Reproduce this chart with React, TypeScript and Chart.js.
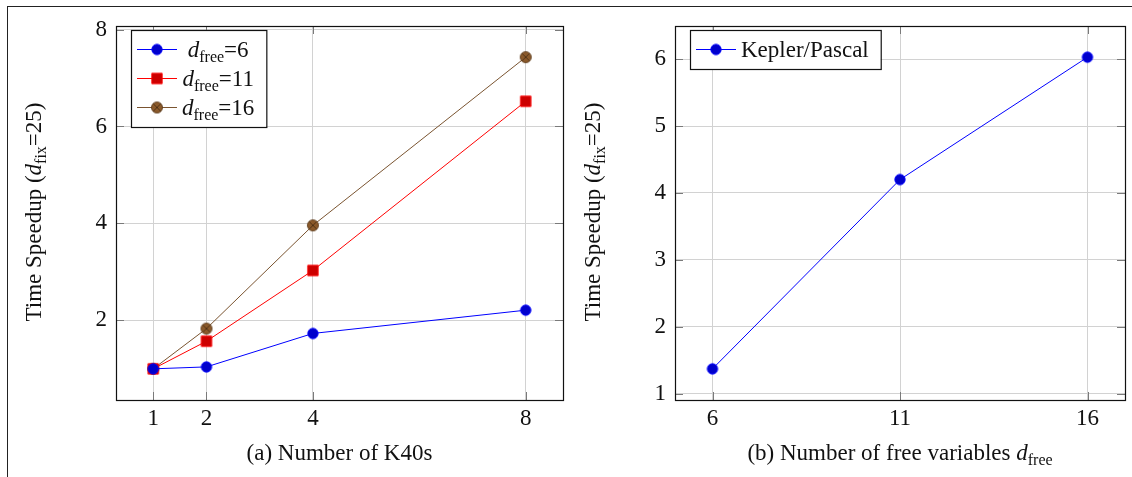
import React, { useEffect, useRef } from 'react';
import { Chart, registerables } from 'chart.js';

Chart.register(...registerables);

// ---- data ----
const gpuCounts = [1, 2, 4, 8];
const speedupFree6 = [1.0, 1.04, 1.73, 2.21];
const speedupFree11 = [1.0, 1.57, 3.03, 6.52];
const speedupFree16 = [1.0, 1.83, 3.96, 7.43];

const freeVariables = [6, 11, 16];
const speedupKeplerPascal = [1.37, 4.2, 6.03];

const leftXTicks = [1, 2, 4, 8];
const leftYTicks = [2, 4, 6, 8];
const rightXTicks = [6, 11, 16];
const rightYTicks = [1, 2, 3, 4, 5, 6];

// ---- styling ----
const FAMILY = "'Liberation Serif', 'DejaVu Serif', serif";
const MAIN = 23;
const SUB = 16;
const TEXT = '#111';
const GRID = '#d2d2d2';
const TICK = '#7a7a7a';

type Seg = { t: string; it?: boolean; sub?: boolean };

const fontOf = (s: Seg) => `${s.it ? 'italic ' : ''}${s.sub ? SUB : MAIN}px ${FAMILY}`;

function richWidth(ctx: CanvasRenderingContext2D, segs: Seg[]) {
  let w = 0;
  for (const s of segs) {
    ctx.font = fontOf(s);
    w += ctx.measureText(s.t).width;
  }
  return w;
}

function drawRich(ctx: CanvasRenderingContext2D, segs: Seg[], x: number, y: number) {
  ctx.textAlign = 'left';
  ctx.textBaseline = 'alphabetic';
  ctx.fillStyle = TEXT;
  let cx = x;
  for (const s of segs) {
    ctx.font = fontOf(s);
    ctx.fillText(s.t, cx, s.sub ? y + 5 : y);
    cx += ctx.measureText(s.t).width;
  }
}

function makeMarker(kind: 'circle' | 'square' | 'otimes', fill: string, stroke: string) {
  const c = document.createElement('canvas');
  c.width = 14;
  c.height = 14;
  const g = c.getContext('2d')!;
  g.fillStyle = fill;
  g.strokeStyle = stroke;
  g.lineWidth = 0.9;
  if (kind === 'square') {
    g.beginPath();
    g.rect(1.8, 1.8, 10.4, 10.4);
    g.fill();
    g.stroke();
  } else {
    const r = kind === 'circle' ? 5.2 : 5.5;
    g.beginPath();
    g.arc(7, 7, r, 0, Math.PI * 2);
    g.fill();
    g.stroke();
    if (kind === 'otimes') {
      const d = r * 0.7;
      g.strokeStyle = '#4a2e14';
      g.beginPath();
      g.moveTo(7 - d, 7 - d);
      g.lineTo(7 + d, 7 + d);
      g.moveTo(7 + d, 7 - d);
      g.lineTo(7 - d, 7 + d);
      g.stroke();
    }
  }
  return c;
}

type Series = {
  label: Seg[];
  xs: number[];
  ys: number[];
  line: string;
  marker: HTMLCanvasElement;
};

type PanelProps = {
  left: number;
  width: number;
  yAxisWidth: number;
  padRight: number;
  series: Series[];
  xTicks: number[];
  yTicks: number[];
  caption: Seg[];
  yTitle: Seg[];
};

// axis limits padded by 10% of the data range on each side
function paddedRange(values: number[]) {
  const lo = Math.min(...values);
  const hi = Math.max(...values);
  const pad = (hi - lo) * 0.1;
  return [lo - pad, hi + pad];
}

function Panel(p: PanelProps) {
  const ref = useRef<HTMLCanvasElement>(null);

  useEffect(() => {
    const [xMin, xMax] = paddedRange(p.series.flatMap((s) => s.xs));
    const [yMin, yMax] = paddedRange(p.series.flatMap((s) => s.ys));

    const decor = {
      id: 'decor',
      afterDraw(chart: any) {
        const ctx: CanvasRenderingContext2D = chart.ctx;
        const a = chart.chartArea;
        const xs = chart.scales.x;
        const ys = chart.scales.y;
        ctx.save();

        // inward tick marks on all four sides
        ctx.strokeStyle = TICK;
        ctx.lineWidth = 1;
        const TL = 8;
        ctx.beginPath();
        for (const v of p.xTicks) {
          const px = Math.round(xs.getPixelForValue(v)) + 0.5;
          ctx.moveTo(px, a.bottom);
          ctx.lineTo(px, a.bottom - TL);
          ctx.moveTo(px, a.top);
          ctx.lineTo(px, a.top + TL);
        }
        for (const v of p.yTicks) {
          const py = Math.round(ys.getPixelForValue(v)) + 0.5;
          ctx.moveTo(a.left, py);
          ctx.lineTo(a.left + TL, py);
          ctx.moveTo(a.right, py);
          ctx.lineTo(a.right - TL, py);
        }
        ctx.stroke();

        // axis box
        ctx.strokeStyle = '#111';
        ctx.lineWidth = 1.2;
        ctx.strokeRect(a.left + 0.5, a.top + 0.5, a.right - a.left, a.bottom - a.top);

        // legend
        const widths = p.series.map((s) => richWidth(ctx, s.label));
        const maxW = Math.max(...widths);
        const bx = a.left + 15;
        const by = a.top + 4;
        const rowH = 29;
        const bw = 51 + maxW + 12;
        const bh = p.series.length * rowH + 10;
        ctx.fillStyle = '#fff';
        ctx.fillRect(bx, by, bw, bh);
        ctx.strokeStyle = '#111';
        ctx.lineWidth = 1.2;
        ctx.strokeRect(bx + 0.5, by + 0.5, bw, bh);
        p.series.forEach((s, i) => {
          const cy = by + 19.5 + i * rowH;
          ctx.strokeStyle = s.line;
          ctx.lineWidth = 1;
          ctx.beginPath();
          ctx.moveTo(bx + 6, cy);
          ctx.lineTo(bx + 46, cy);
          ctx.stroke();
          ctx.drawImage(s.marker, bx + 26 - s.marker.width / 2, cy - s.marker.height / 2);
          const tx = bx + 51 + (maxW - widths[i]) / 2;
          drawRich(ctx, s.label, tx, cy + 7);
        });

        // caption under the x axis
        const cw = richWidth(ctx, p.caption);
        drawRich(ctx, p.caption, (a.left + a.right) / 2 - cw / 2, 460);

        // rotated y-axis title
        const tw = richWidth(ctx, p.yTitle);
        ctx.translate(a.left - 75, (a.top + a.bottom) / 2 - 1);
        ctx.rotate(-Math.PI / 2);
        drawRich(ctx, p.yTitle, -tw / 2, 0);

        ctx.restore();
      },
    };

    const tickFont = { family: FAMILY, size: MAIN };

    const chart = new Chart(ref.current!, {
      type: 'line',
      data: {
        datasets: p.series.map((s) => ({
          data: s.xs.map((x, i) => ({ x, y: s.ys[i] })),
          borderColor: s.line,
          borderWidth: 1,
          pointStyle: s.marker as any,
          pointRadius: 6,
          tension: 0,
          fill: false,
          clip: false as any,
        })),
      },
      options: {
        responsive: false,
        animation: false,
        devicePixelRatio: 1,
        events: [],
        layout: { padding: { top: 26, right: p.padRight, left: 0, bottom: 0 } },
        plugins: { legend: { display: false }, tooltip: { enabled: false } },
        scales: {
          x: {
            type: 'linear',
            min: xMin,
            max: xMax,
            afterBuildTicks: (sc: any) => {
              sc.ticks = p.xTicks.map((v) => ({ value: v }));
            },
            afterFit: (sc: any) => {
              sc.height = 77;
            },
            grid: { color: GRID, lineWidth: 1, drawTicks: false },
            border: { display: false },
            ticks: {
              font: tickFont,
              color: TEXT,
              padding: 5,
              maxRotation: 0,
              autoSkip: false,
              callback: (v: any) => String(v),
            },
          },
          y: {
            type: 'linear',
            min: yMin,
            max: yMax,
            afterBuildTicks: (sc: any) => {
              sc.ticks = p.yTicks.map((v) => ({ value: v }));
            },
            afterFit: (sc: any) => {
              sc.width = p.yAxisWidth;
            },
            grid: { color: GRID, lineWidth: 1, drawTicks: false },
            border: { display: false },
            ticks: {
              font: tickFont,
              color: TEXT,
              padding: 9,
              autoSkip: false,
              callback: (v: any) => String(v),
            },
          },
        },
      },
      plugins: [decor],
    });
    return () => chart.destroy();
  }, []);

  return (
    <canvas
      ref={ref}
      width={p.width}
      height={477}
      style={{ position: 'absolute', left: p.left, top: 0, width: p.width, height: 477 }}
    />
  );
}

const dFree = (v: string): Seg[] => [{ t: 'd', it: true }, { t: 'free', sub: true }, { t: '=' + v }];
const speedupTitle: Seg[] = [
  { t: 'Time Speedup (' },
  { t: 'd', it: true },
  { t: 'fix', sub: true },
  { t: '=25)' },
];

export default function App() {
  const leftSeries: Series[] = [
    { label: dFree('6'), xs: gpuCounts, ys: speedupFree6, line: '#0000ff', marker: makeMarker('circle', '#0000cc', '#0000ff') },
    { label: dFree('11'), xs: gpuCounts, ys: speedupFree11, line: '#ff0000', marker: makeMarker('square', '#cc0000', '#ff0000') },
    { label: dFree('16'), xs: gpuCounts, ys: speedupFree16, line: '#7a5430', marker: makeMarker('otimes', '#8b5a2b', '#5e3c1c') },
  ];
  const rightSeries: Series[] = [
    {
      label: [{ t: 'Kepler/Pascal' }],
      xs: freeVariables,
      ys: speedupKeplerPascal,
      line: '#0000ff',
      marker: makeMarker('circle', '#0000cc', '#0000ff'),
    },
  ];

  return (
    <div style={{ position: 'fixed', left: 0, top: 0, width: 1132, height: 477, background: '#fff', overflow: 'hidden' }}>
      <div
        style={{
          position: 'absolute',
          left: 7,
          top: 6,
          width: 1130,
          height: 480,
          borderTop: '1px solid #222',
          borderLeft: '1px solid #222',
        }}
      />
      <Panel
        left={0}
        width={570}
        yAxisWidth={116}
        padRight={3}
        series={leftSeries}
        xTicks={leftXTicks}
        yTicks={leftYTicks}
        caption={[{ t: '(a) Number of K40s' }]}
        yTitle={speedupTitle}
      />
      <Panel
        left={570}
        width={562}
        yAxisWidth={105}
        padRight={7}
        series={rightSeries}
        xTicks={rightXTicks}
        yTicks={rightYTicks}
        caption={[{ t: '(b) Number of free variables ' }, { t: 'd', it: true }, { t: 'free', sub: true }]}
        yTitle={speedupTitle}
      />
    </div>
  );
}
